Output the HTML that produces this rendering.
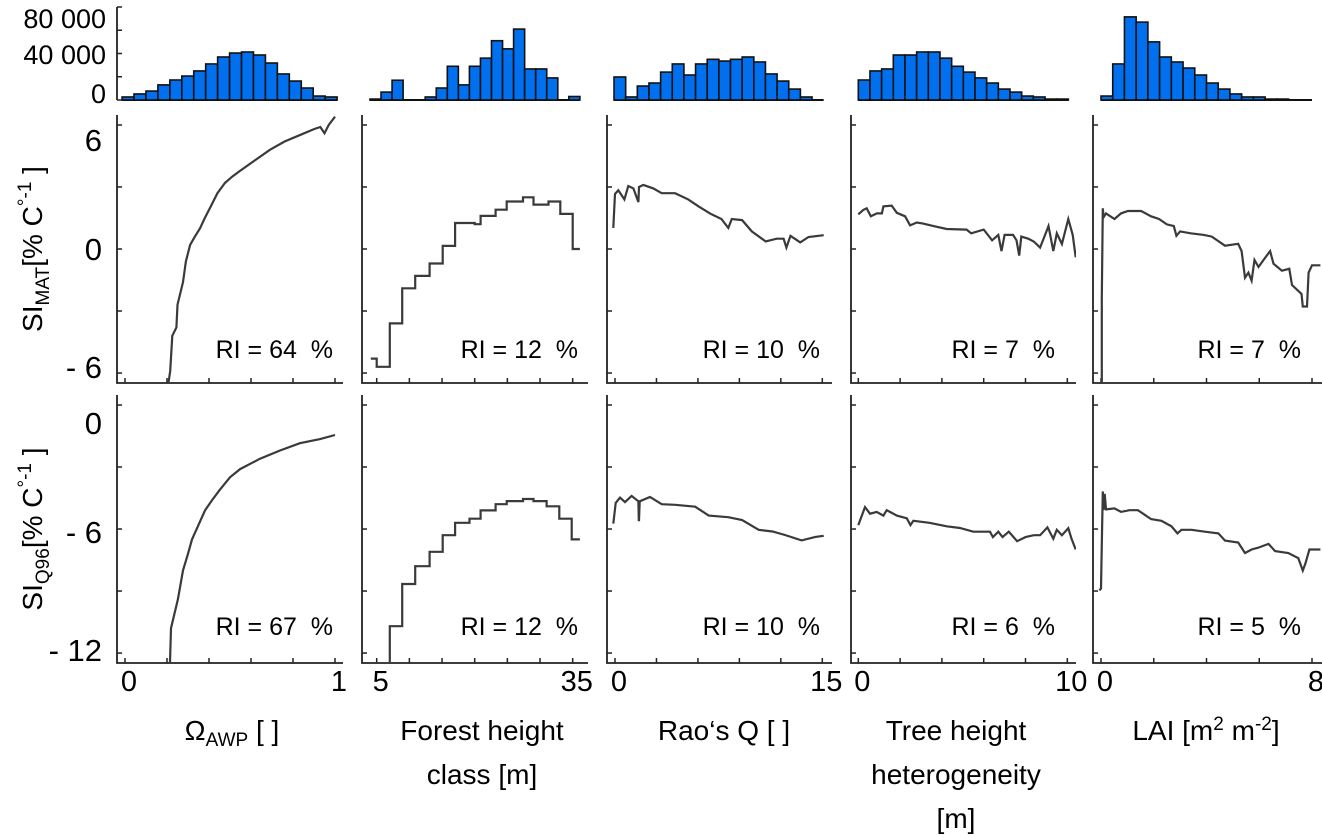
<!DOCTYPE html>
<html><head><meta charset="utf-8"><style>
html,body{margin:0;padding:0;background:#fff;}
svg{display:block;font-family:"Liberation Sans",sans-serif;}
text{white-space:pre;}
</style></head><body>
<svg id="fig" width="1322" height="838" viewBox="0 0 1322 838" xmlns="http://www.w3.org/2000/svg">
<g id="root"></g>
</svg>
<script>
// ---------- data ----------
const panelNames = ["omega-awp","forest-height","raos-q","tree-height-het","lai"];
const hist1 = [2600,5200,7700,13000,17200,20600,25000,31000,37000,40400,41300,38700,31800,22400,16300,10300,3400,2600];
const hist2 = [800,6800,17000,0,0,2600,10300,29000,13000,29000,36000,51000,44000,61000,26700,26700,19000,0,3000];
const hist3 = [19800,2600,12000,14600,24000,31000,21500,31000,35000,33500,35000,37000,32700,22400,16300,9400,2600,0];
const hist4 = [17200,25000,26700,38700,38700,41300,41300,36000,29000,24000,19000,14600,9400,6800,3400,2600,800,800];
const hist5 = [3400,31000,71500,67000,50000,37000,32700,27500,21500,14600,9400,5200,2600,2600,800,800,0,0];
const histRange1 = [-0.014,1.01];
const histRange2 = [3.97,36.1];
const histRange3 = [-0.07,15.1];
const histRange4 = [0,10.05];
const histRange5 = [0,8.0];
const histTicks = [0,20000,40000,60000,80000];
const histTickLabels = [["80 000",18],["40 000",54],["0",93]];

const xTicks1 = [0,0.2,0.4,0.6,0.8,1];
const xTicks2 = [5,10,15,20,25,30,35];
const xTicks3 = [0,3,6,9,12,15];
const xTicks4 = [0,2,4,6,8,10];
const xTicks5 = [0,2,4,6,8];
const xLabels1 = ["0","1"], xLabelVals1 = [0,1];
const xLabels2 = ["5","35"], xLabelVals2 = [5,35];
const xLabels3 = ["0","15"], xLabelVals3 = [0,15];
const xLabels4 = ["0","10"], xLabelVals4 = [0,10];
const xLabels5 = ["0","8"], xLabelVals5 = [0,8];
const yTicksRow1 = [6,3,0,-3,-6];
const yTicksRow2 = [0,-3,-6,-9,-12];
const riRow1 = ["64","12","10","7","7"];
const riRow2 = ["67","12","10","6","5"];

// Row 1 (SI_MAT) series
const p1r1x = [0.205,0.215,0.225,0.245,0.25,0.276,0.29,0.31,0.333,0.357,0.38,0.405,0.44,0.476,0.51,0.55,0.62,0.69,0.76,0.83,0.9,0.93,0.95,0.97,1.0];
const p1r1y = [-6.6,-5.9,-4.2,-3.8,-2.7,-1.6,-0.6,0.2,0.6,1.0,1.5,2.0,2.7,3.2,3.5,3.8,4.3,4.8,5.2,5.5,5.8,5.9,5.6,6.0,6.4];
const p2r1edges = [4.1,5,7,8.9,10.9,13.1,15.1,17,20,20.9,23.2,24.9,27.4,29,31.3,33.1,35,36.1];
const p2r1levels = [-5.3,-5.7,-3.6,-1.9,-1.3,-0.7,0.15,1.26,1.2,1.6,1.9,2.3,2.5,2.15,2.3,1.7,0];
const p3r1x = [-0.12,0.0,0.24,0.68,0.96,1.33,1.69,1.74,2.05,2.77,3.38,4.35,5.3,6.05,6.9,7.7,8.2,8.45,9.2,9.9,10.9,11.7,12.2,12.4,12.7,13.4,14.0,15.1];
const p3r1y = [1.02,2.66,2.84,2.4,3.05,2.93,2.27,3.0,3.1,2.93,2.7,2.7,2.4,2.06,1.71,1.45,1.02,1.45,1.4,0.85,0.37,0.5,0.5,0.07,0.64,0.32,0.58,0.67];
const p4r1x = [0.0,0.24,0.4,0.6,0.89,1.13,1.2,1.6,1.84,2.24,2.48,2.8,3.1,3.6,4.23,5.18,5.4,6.0,6.4,6.7,6.85,7.0,7.4,7.57,7.7,7.8,8.13,8.4,8.7,9.1,9.33,9.5,9.74,10.05,10.26,10.4];
const p4r1y = [1.68,1.89,1.97,1.58,1.72,1.72,2.06,2.1,1.75,1.58,1.14,1.28,1.23,1.11,0.97,0.94,0.76,0.94,0.42,0.68,-0.1,0.68,0.68,0.42,-0.32,0.6,0.5,0.36,0.07,1.11,-0.1,0.76,0.24,1.45,0.68,-0.4];
const p5r1x = [0.0,0.03,0.03,0.07,0.1,0.19,0.51,0.76,1.02,1.52,1.9,2.2,2.5,2.76,2.86,3.0,3.4,3.9,4.2,4.7,5.2,5.33,5.46,5.59,5.71,5.82,5.97,6.16,6.41,6.54,6.86,7.14,7.24,7.6,7.65,7.81,7.87,8.0,8.32];
const p5r1y = [-6.6,-6.6,-2.35,1.97,1.54,1.72,1.45,1.72,1.84,1.84,1.58,1.45,1.19,1.11,0.64,0.85,0.76,0.68,0.6,0.16,0.25,-0.1,-1.39,-1.14,-1.53,-0.53,-0.87,-0.53,-0.1,-0.71,-1.05,-0.96,-1.74,-2.17,-2.78,-2.78,-1.14,-0.79,-0.79];

// Row 2 (SI_Q96) series
const p1r2x = [0.214,0.219,0.252,0.276,0.3,0.319,0.35,0.381,0.415,0.452,0.5,0.548,0.643,0.738,0.833,0.929,1.0];
const p1r2y = [-12.6,-10.8,-9.4,-8.0,-7.2,-6.5,-5.8,-5.1,-4.6,-4.1,-3.5,-3.1,-2.6,-2.2,-1.85,-1.65,-1.45];
const p2r2edges = [4.1,5,7,8.9,10.9,13.1,15.1,17,19.2,20.9,23.2,24.9,27.4,29,31.0,32.95,34.85,36.1];
const p2r2levels = [-12.6,-12.5,-10.7,-8.66,-7.8,-7.1,-6.3,-5.7,-5.5,-5.1,-4.8,-4.65,-4.55,-4.65,-4.9,-5.5,-6.5];
const p3r2x = [-0.12,0.05,0.36,0.72,1.2,1.69,1.72,1.74,1.79,2.53,3.38,4.35,5.8,6.78,8.2,9.2,10.4,11.4,12.3,13.5,14.5,15.1];
const p3r2y = [-5.74,-4.74,-4.48,-4.7,-4.4,-4.66,-5.57,-5.57,-4.66,-4.45,-4.8,-4.83,-4.92,-5.35,-5.43,-5.57,-6.04,-6.12,-6.29,-6.55,-6.38,-6.33];
const p4r2x = [0,0.32,0.56,0.88,1.2,1.36,1.84,2.32,2.5,2.63,3.4,4.23,4.86,5.5,6.3,6.44,6.7,6.9,7.2,7.6,8.0,8.4,8.7,9.05,9.33,9.5,9.74,10.05,10.2,10.4];
const p4r2y = [-5.81,-4.94,-5.26,-5.17,-5.35,-5.09,-5.35,-5.48,-5.81,-5.6,-5.7,-5.87,-5.95,-6.13,-6.13,-6.39,-6.13,-6.39,-6.13,-6.59,-6.39,-6.3,-6.3,-5.92,-6.47,-6.04,-6.3,-5.96,-6.47,-6.99];
const p5r2x = [-0.06,0.0,0.03,0.07,0.1,0.14,0.19,0.51,0.76,1.08,1.4,1.9,2.29,2.67,2.9,3.05,3.43,3.94,4.45,4.7,5.2,5.46,5.71,5.97,6.35,6.6,7.1,7.48,7.65,7.75,7.9,8.32];
const p5r2y = [-8.97,-8.88,-6.72,-4.18,-5.08,-4.3,-5.05,-5.0,-5.17,-5.09,-5.09,-5.52,-5.6,-5.87,-6.21,-6.04,-6.04,-6.13,-6.21,-6.56,-6.65,-7.16,-6.99,-6.9,-6.72,-7.07,-7.16,-7.41,-8.01,-7.67,-6.99,-6.99];

// ---------- layout ----------
const NS = "http://www.w3.org/2000/svg";
const root = document.getElementById("root");
function el(tag, attrs, parent){ const e=document.createElementNS(NS,tag); for(const k in attrs) e.setAttribute(k,attrs[k]); (parent||root).appendChild(e); return e; }

const panels = [
 {axL:117,axR:343,d0:0,p0:125,d1:1,p1:335,hist:hist1,hr:histRange1,xt:xTicks1,xl:xLabels1,xv:xLabelVals1,r1x:p1r1x,r1y:p1r1y,r2x:p1r2x,r2y:p1r2y,riR:333},
 {axL:362,axR:588,d0:5,p0:376.7,d1:35,p1:572.7,hist:hist2,hr:histRange2,xt:xTicks2,xl:xLabels2,xv:xLabelVals2,step:true,r1e:p2r1edges,r1l:p2r1levels,r2e:p2r2edges,r2l:p2r2levels,riR:578},
 {axL:607,axR:832,d0:0,p0:615,d1:15,p1:822.3,hist:hist3,hr:histRange3,xt:xTicks3,xl:xLabels3,xv:xLabelVals3,r1x:p3r1x,r1y:p3r1y,r2x:p3r2x,r2y:p3r2y,riR:820},
 {axL:851,axR:1076,d0:0,p0:858.3,d1:10,p1:1067.3,hist:hist4,hr:histRange4,xt:xTicks4,xl:xLabels4,xv:xLabelVals4,r1x:p4r1x,r1y:p4r1y,r2x:p4r2x,r2y:p4r2y,riR:1055},
 {axL:1093,axR:1322,d0:0,p0:1101,d1:8,p1:1312,hist:hist5,hr:histRange5,xt:xTicks5,xl:xLabels5,xv:xLabelVals5,r1x:p5r1x,r1y:p5r1y,r2x:p5r2x,r2y:p5r2y,riR:1301}
];
const rows = [{top:115,bot:383,y0:249,ticks:yTicksRow1,ri:riRow1},{top:395,bot:663,y0:405,ticks:yTicksRow2,ri:riRow2}];
const PXU = 20.67;
const HB = 100, HSCALE = 93/80000;
const hy = v => HB - v*HSCALE;

const defs = el("defs",{});
panels.forEach((p,i)=>{
  const sx = v => p.p0 + (v-p.d0)*(p.p1-p.p0)/(p.d1-p.d0);
  const hg = el("g",{});
  
  
  const n = p.hist.length, w = (p.hr[1]-p.hr[0])/n;
  el("line",{x1:sx(p.hr[0]),x2:sx(p.hr[1]),y1:HB,y2:HB,stroke:"#111","stroke-width":2},hg);
  p.hist.forEach((v,k)=>{
    if(v<=0) return;
    const x0=sx(p.hr[0]+k*w), x1=sx(p.hr[0]+(k+1)*w);
    const r = el("rect",{x:x0,y:hy(v),width:x1-x0,height:HB-hy(v),fill:"#0070ee",stroke:"#111","stroke-width":1.6},hg);
    
    
  });
  rows.forEach((r,ri)=>{
    const sy = v => r.y0 - v*PXU;
    const g = el("g",{});
    
    
    const cid = "c"+i+"_"+ri;
    const cp = el("clipPath",{id:cid},defs);
    el("rect",{x:p.axL,y:r.top,width:p.axR-p.axL,height:r.bot-r.top},cp);
    el("path",{d:`M${p.axL},${r.top}V${r.bot}H${p.axR}`,fill:"none",stroke:"#222","stroke-width":1.8},g);
    r.ticks.forEach(t=>{ el("line",{x1:p.axL,x2:p.axL+5,y1:sy(t),y2:sy(t),stroke:"#222","stroke-width":1.5},g); });
    p.xt.forEach(t=>{ el("line",{x1:sx(t),x2:sx(t),y1:r.bot,y2:r.bot-5,stroke:"#222","stroke-width":1.5},g); });
    let pts=[];
    if(p.step){
      const e = ri===0?p.r1e:p.r2e, l = ri===0?p.r1l:p.r2l;
      l.forEach((v,k)=>{ pts.push([sx(e[k]),sy(v)]); pts.push([sx(e[k+1]),sy(v)]); });
    } else {
      const xs = ri===0?p.r1x:p.r2x, ys = ri===0?p.r1y:p.r2y;
      xs.forEach((x,k)=>pts.push([sx(x),sy(ys[k])]));
    }
    const line = el("path",{d:"M"+pts.map(q=>q[0].toFixed(1)+","+q[1].toFixed(1)).join("L"),fill:"none",stroke:"#3a3a3a","stroke-width":2.2,"clip-path":`url(#${cid})`},g);
    
    
    const t = el("text",{x:p.riR,y:ri===0?358:635,"text-anchor":"end","font-size":25,fill:"#000"},g);
    t.textContent = "RI = "+r.ri[i]+"  %";
    
    
  });
  p.xl.forEach((lab,k)=>{
    const t = el("text",{x:sx(p.xv[k])+4,y:691,"text-anchor":"middle","font-size":29,fill:"#000"});
    t.textContent = lab;
    
    
  });
});
const hax = el("g",{});


el("path",{d:`M117,${hy(80000)}V${HB}`,stroke:"#222","stroke-width":1.8,fill:"none"},hax);
histTicks.forEach(t=>el("line",{x1:117,x2:122,y1:hy(t),y2:hy(t),stroke:"#222","stroke-width":1.5},hax));
histTickLabels.forEach(([s,y])=>{ const t=el("text",{x:106,y:y+10,"text-anchor":"end","font-size":27},hax); t.textContent=s; });
const yLabs = [["6",140],["0",249],["- 6",367],["0",423],["- 6",532],["- 12",650]];
yLabs.forEach(([s,y])=>{
  const t = el("text",{x:102,y:y+11,"text-anchor":"end","font-size":31,fill:"#000"});
  t.textContent = s;
  
  
});
root.insertAdjacentHTML("beforeend", `
<text transform="translate(42,249) rotate(-90)" text-anchor="middle" font-size="28">SI<tspan font-size="19" dy="7">MAT</tspan><tspan dy="-7">[% C</tspan><tspan font-size="19" dy="-11">°-1</tspan><tspan dy="11"> ]</tspan></text>
<text transform="translate(42,529) rotate(-90)" text-anchor="middle" font-size="28">SI<tspan font-size="19" dy="7">Q96</tspan><tspan dy="-7">[% C</tspan><tspan font-size="19" dy="-11">°-1</tspan><tspan dy="11"> ]</tspan></text>
<text x="232" y="740" text-anchor="middle" font-size="28">Ω<tspan font-size="19" dy="6">AWP</tspan><tspan dy="-6"> [ ]</tspan></text>
<text font-size="28" text-anchor="middle"><tspan x="482" y="740">Forest height</tspan><tspan x="482" y="784">class [m]</tspan></text>
<text x="724" y="740" text-anchor="middle" font-size="28">Rao‘s Q [ ]</text>
<text font-size="28" text-anchor="middle"><tspan x="956" y="740">Tree height</tspan><tspan x="956" y="784">heterogeneity</tspan><tspan x="956" y="828">[m]</tspan></text>
<text x="1206" y="740" text-anchor="middle" font-size="28">LAI [m<tspan font-size="19" dy="-10">2</tspan><tspan dy="10"> m</tspan><tspan font-size="19" dy="-10">-2</tspan><tspan dy="10">]</tspan></text>
`);
</script>
</body></html>
